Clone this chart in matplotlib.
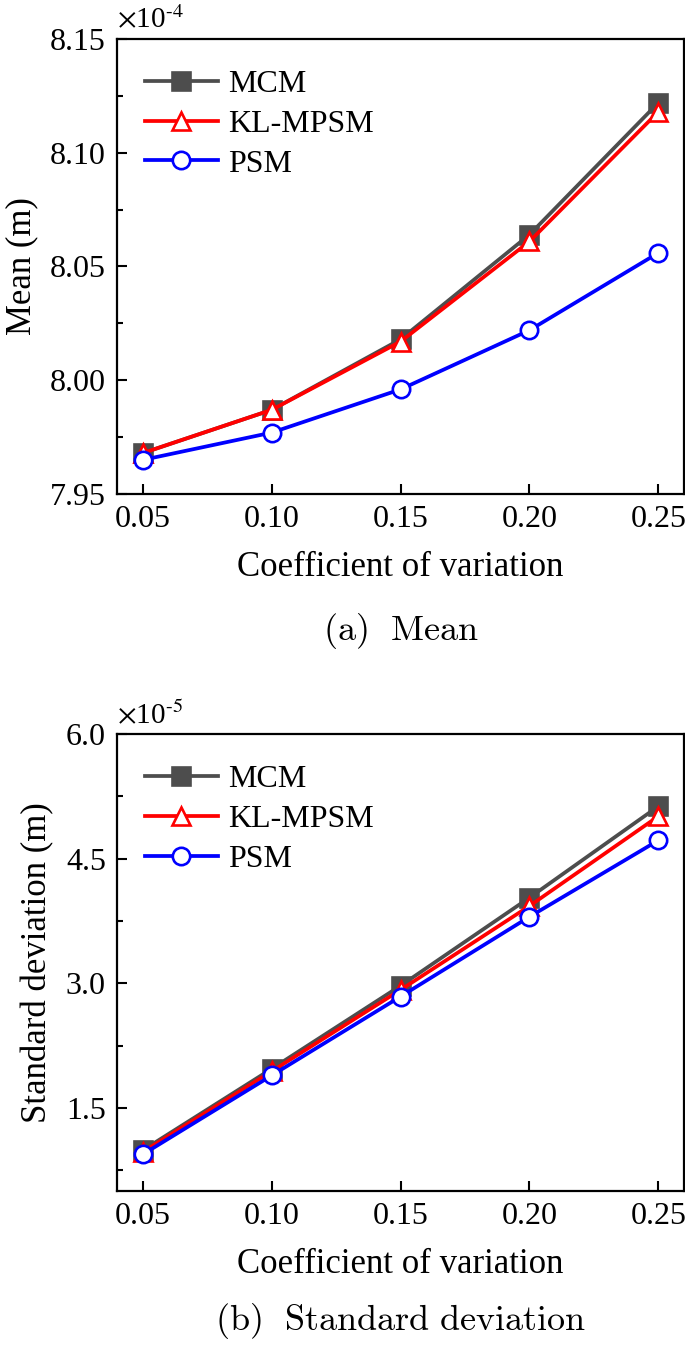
import matplotlib
matplotlib.use('Agg')
import matplotlib.pyplot as plt
from matplotlib.ticker import MultipleLocator, FormatStrFormatter

plt.rcParams['font.family'] = ['Liberation Serif', 'DejaVu Serif']
plt.rcParams['mathtext.fontset'] = 'stix'

cov = [0.05, 0.10, 0.15, 0.20, 0.25]

# mean displacement, x 1e-4 m
mean_mcm = [7.968, 7.987, 8.018, 8.064, 8.122]
mean_kl = [7.968, 7.987, 8.017, 8.061, 8.118]
mean_psm = [7.965, 7.977, 7.996, 8.022, 8.056]

# standard deviation, x 1e-5 m
std_mcm = [0.99, 1.97, 2.97, 4.03, 5.13]
std_kl = [0.97, 1.94, 2.92, 3.93, 5.01]
std_psm = [0.94, 1.89, 2.84, 3.80, 4.72]

xticks = [0.05, 0.10, 0.15, 0.20, 0.25]

styles = [
    ('MCM', dict(color='#4d4d4d', marker='s', mfc='#4d4d4d', mec='#4d4d4d')),
    ('KL-MPSM', dict(color='#ff0000', marker='^', mfc='white', mec='#ff0000')),
    ('PSM', dict(color='#0000ff', marker='o', mfc='white', mec='#0000ff')),
]

fig = plt.figure(figsize=(6.85, 13.48), dpi=100)
ax1 = fig.add_axes([0.1708, 0.6335, 0.828, 0.3376])
ax2 = fig.add_axes([0.1708, 0.1165, 0.828, 0.3390])


def draw(ax, series, ylim, ymajor, yfmt, ylabel, power, caption):
    for (name, st), vals in zip(styles, series):
        ax.plot(cov, vals, label=name, lw=2.7, ms=12.5, mew=1.9, **st)
    ax.set_xlim(0.04, 0.26)
    ax.set_ylim(*ylim)
    ax.set_xticks(xticks)
    ax.xaxis.set_major_formatter(FormatStrFormatter('%.2f'))
    ax.yaxis.set_major_locator(MultipleLocator(ymajor))
    ax.yaxis.set_minor_locator(MultipleLocator(ymajor / 2))
    ax.yaxis.set_major_formatter(FormatStrFormatter(yfmt))
    ax.tick_params(axis='both', which='major', direction='in', length=7,
                   width=1.5, labelsize=23, pad=8)
    ax.tick_params(axis='y', which='minor', direction='in', length=4, width=1.5)
    for sp in ax.spines.values():
        sp.set_linewidth(1.6)
    ax.set_xlabel('Coefficient of variation', fontsize=25, labelpad=12)
    ax.set_ylabel(ylabel, fontsize=25, labelpad=8)
    ax.text(0.0, 1.01, r'$\times$10$^{\text{-}' + power + '}$', transform=ax.transAxes,
            fontsize=21, ha='left', va='bottom')
    ax.legend(loc='upper left', bbox_to_anchor=(0.015, 0.975), frameon=False,
              fontsize=23, handlelength=2.3, handletextpad=0.3,
              labelspacing=0.33, borderaxespad=0.2)
    ax.text(0.5, caption[1], caption[0], transform=ax.transAxes, ha='center',
            va='center', fontsize=26, math_fontfamily='cm')


draw(ax1, [mean_mcm, mean_kl, mean_psm], (7.95, 8.15), 0.05, '%.2f',
     'Mean (m)', '4', (r'$\mathrm{(a)\ \ Mean}$', -0.30))
draw(ax2, [std_mcm, std_kl, std_psm], (0.5, 6.0), 1.5, '%.1f',
     'Standard deviation (m)', '5', (r'$\mathrm{(b)\ \ Standard\ deviation}$', -0.285))

fig.savefig('out.png', dpi=100)
